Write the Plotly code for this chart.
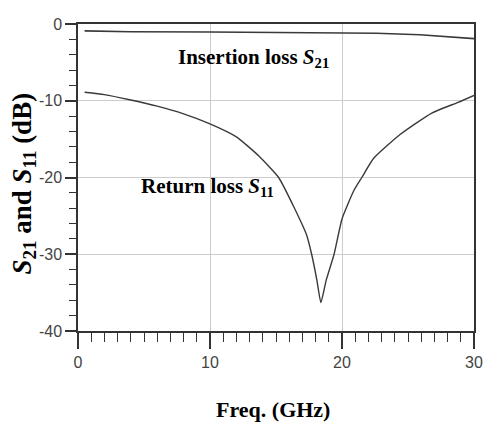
import plotly.graph_objects as go

# S21 (insertion loss) readings
s21_freq = [0.5, 4, 10, 20, 22.6, 25.9, 28.1, 30]
s21_db = [-0.9, -1.0, -1.05, -1.1, -1.2, -1.4, -1.65, -1.9]

# S11 (return loss) readings
s11_freq = [0.5, 2, 4, 6, 8, 10, 12, 13.7, 15.2, 16.4, 17.3, 17.7, 18.1, 18.4,
            18.8, 19.4, 20.0, 20.9, 21.5, 22.4, 24.4, 26.8, 28.8, 30]
s11_db = [-8.9, -9.2, -9.9, -10.7, -11.7, -13.0, -14.7, -17.2, -20.0, -24.0, -27.4, -30.0, -33.4, -36.3,
          -33.4, -30.0, -25.4, -21.7, -20.0, -17.5, -14.4, -11.6, -10.2, -9.3]

x_ticks = [0, 10, 20, 30]
y_ticks = [0, -10, -20, -30, -40]

line_col = "#3a3a3a"
serif = "Liberation Serif, Times New Roman, serif"
narrow = "Liberation Sans Narrow, Arial Narrow, Liberation Sans, sans-serif"

fig = go.Figure()
fig.add_trace(go.Scatter(x=s21_freq, y=s21_db, mode="lines",
                         line=dict(color=line_col, width=1.6), showlegend=False))
fig.add_trace(go.Scatter(x=s11_freq, y=s11_db, mode="lines",
                         line=dict(color=line_col, width=1.4, shape="spline", smoothing=0.5),
                         showlegend=False))

fig.update_layout(
    width=483, height=421,
    margin=dict(l=70, r=8, t=9, b=98),
    plot_bgcolor="white", paper_bgcolor="white",
    showlegend=False,
)

fig.update_xaxes(
    range=[0, 30], tickvals=x_ticks, ticktext=[str(v) for v in x_ticks],
    showgrid=True, gridcolor="#cccccc", gridwidth=1,
    showline=True, linecolor="#333333", linewidth=1.5, mirror=True,
    ticks="outside", ticklen=16, tickwidth=1.5, tickcolor="#333333",
    minor=dict(dtick=1, ticks="outside", ticklen=9, tickwidth=1.2, tickcolor="#333333", showgrid=False),
    tickfont=dict(family=narrow, size=16, color="#444444"),
    zeroline=False,
)
fig.update_yaxes(
    range=[-40, 0], tickvals=y_ticks, ticktext=[str(v) for v in y_ticks],
    showgrid=True, gridcolor="#cccccc", gridwidth=1,
    showline=True, linecolor="#333333", linewidth=1.5, mirror=True,
    ticks="outside", ticklen=11, tickwidth=1.5, tickcolor="#333333",
    minor=dict(dtick=2, ticks="outside", ticklen=7, tickwidth=1.2, tickcolor="#333333", showgrid=False),
    tickfont=dict(family=narrow, size=16, color="#444444"),
    zeroline=False,
)

fig.add_annotation(
    text="<b><i>S</i><sub>21</sub> and <i>S</i><sub>11</sub> (dB)</b>",
    xref="paper", yref="paper", x=-0.136, y=0.481, textangle=-90,
    showarrow=False, font=dict(family=serif, size=27, color="black"),
    xanchor="center", yanchor="middle",
)
fig.add_annotation(
    text="<b>Freq. (GHz)</b>",
    xref="paper", yref="paper", x=0.492, y=-0.257,
    showarrow=False, font=dict(family=serif, size=22, color="black"),
    xanchor="center", yanchor="middle",
)
fig.add_annotation(
    text="<b>Insertion loss <i>S</i><sub>21</sub></b>",
    xref="x", yref="y", x=13.3, y=-4.4,
    showarrow=False, font=dict(family=serif, size=21, color="black"),
    xanchor="center", yanchor="middle",
)
fig.add_annotation(
    text="<b>Return loss <i>S</i><sub>11</sub></b>",
    xref="x", yref="y", x=9.8, y=-21.3,
    showarrow=False, font=dict(family=serif, size=21, color="black"),
    xanchor="center", yanchor="middle",
)

fig.write_html("out.html")
